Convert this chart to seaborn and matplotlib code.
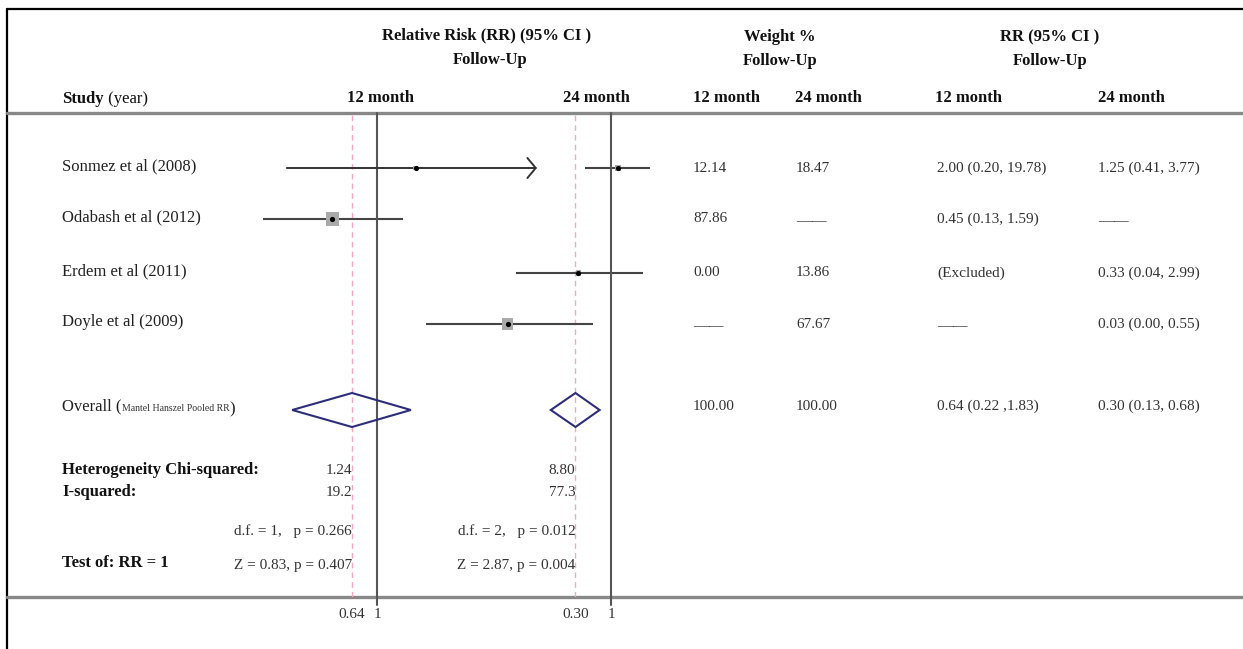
import numpy as np
import pandas as pd
import seaborn as sns
import matplotlib.pyplot as plt
from matplotlib.ticker import NullLocator

# ---- data ----
studies = ['Sonmez et al (2008)', 'Odabash et al (2012)', 'Erdem et al (2011)', 'Doyle et al (2009)']

rr_12 = [2.00, 0.45, np.nan, np.nan]
lo_12 = [0.20, 0.13, np.nan, np.nan]
hi_12 = [19.78, 1.59, np.nan, np.nan]
w_12 = [12.14, 87.86, 0.00, np.nan]

rr_24 = [1.25, np.nan, 0.33, 0.03]
lo_24 = [0.41, np.nan, 0.04, 0.0019]
hi_24 = [3.77, np.nan, 2.99, 0.55]
w_24 = [18.47, np.nan, 13.86, 67.67]

pooled_12 = [0.64, 0.22, 1.83]
pooled_24 = [0.30, 0.13, 0.68]
pooled_text = ['0.64 (0.22 ,1.83)', '0.30 (0.13, 0.68)']
pooled_weight = ['100.00', '100.00']

chi2 = [1.24, 8.80]
i2 = [19.2, 77.3]
dof = [1, 2]
p_het = [0.266, 0.012]
z_val = [0.83, 2.87]
p_z = [0.407, 0.004]

# ---- layout (pixels) ----
W, H = 1243, 649
row_y = [168, 219, 273, 324]
overall_y = 410
rule_top, rule_bottom = 113, 597

sns.set_style('white')
plt.rcParams['font.family'] = ['Liberation Serif', 'DejaVu Serif']

fig = plt.figure(figsize=(W / 100, H / 100), dpi=100)
bg = fig.add_axes([0, 0, 1, 1])
bg.set_xlim(0, W)
bg.set_ylim(H, 0)
bg.axis('off')

# frame and rules
bg.plot([7, W], [9, 9], color='black', lw=1.6)
bg.plot([7, 7], [9, H], color='black', lw=1.6)
for yy in (rule_top, rule_bottom):
    bg.plot([7, W], [yy, yy], color='#888888', lw=2.4)

hdr = dict(fontsize=12, fontweight='bold', color='#111111', va='center')
bg.text(487, 35, 'Relative Risk (RR) (95% CI )', ha='center', **hdr)
bg.text(490, 60, 'Follow-Up', ha='center', **hdr)
bg.text(780, 37, 'Weight %', ha='center', **hdr)
bg.text(780, 61, 'Follow-Up', ha='center', **hdr)
bg.text(1050, 37, 'RR (95% CI )', ha='center', **hdr)
bg.text(1050, 61, 'Follow-Up', ha='center', **hdr)

t = bg.text(62, 99, 'Study', ha='left', **hdr)
bg.annotate(' (year)', xy=(1, 0), xycoords=t, va='bottom', fontsize=12, color='#111111')
for x, lab in [(347, '12 month'), (563, '24 month'), (693, '12 month'),
               (795, '24 month'), (935, '12 month'), (1098, '24 month')]:
    bg.text(x, 98, lab, ha='left', **hdr)

# study names and table columns
val = dict(fontsize=11, color='#333333', va='center', ha='left')
dash = dict(fontsize=11, color='#444444', va='center', ha='left')
for i, name in enumerate(studies):
    y = row_y[i]
    bg.text(62, y - 2, name, fontsize=12, color='#222222', va='center')
    for x, w in [(693, w_12[i]), (796, w_24[i])]:
        if np.isnan(w):
            bg.text(x, y + 3, '\u2014\u2014', **dash)
        else:
            bg.text(x, y, f'{w:.2f}', **val)
    for x, rr, lo, hi, w in [(937, rr_12[i], lo_12[i], hi_12[i], w_12[i]),
                             (1098, rr_24[i], lo_24[i], hi_24[i], w_24[i])]:
        if not np.isnan(rr):
            bg.text(x, y, f'{rr:.2f} ({lo:.2f}, {hi:.2f})', **val)
        elif not np.isnan(w):
            bg.text(x, y, '(Excluded)', **val)
        else:
            bg.text(x, y + 3, '\u2014\u2014', **dash)

t = bg.text(62, overall_y - 4, 'Overall (', fontsize=12, color='#222222', va='center')
t2 = bg.annotate('Mantel Hanszel Pooled RR', xy=(1, 0.08), xycoords=t, va='bottom',
                 fontsize=7, color='#333333')
bg.annotate(')', xy=(1, -0.5), xycoords=t2, va='bottom', fontsize=12, color='#222222')
bg.text(693, overall_y - 4, pooled_weight[0], **val)
bg.text(796, overall_y - 4, pooled_weight[1], **val)
bg.text(937, overall_y - 4, pooled_text[0], **val)
bg.text(1098, overall_y - 4, pooled_text[1], **val)

lab = dict(fontsize=12, fontweight='bold', color='#111111', va='center')
bg.text(62, 470, 'Heterogeneity Chi-squared:', **lab)
bg.text(62, 492, 'I-squared:', **lab)
bg.text(62, 563, 'Test of: RR = 1', **lab)

# ---- forest panels ----
panels = [
    dict(x_one=377, k=56.0, px=(240, 537), rr=rr_12, lo=lo_12, hi=hi_12, w=w_12, pooled=pooled_12, j=0),
    dict(x_one=611, k=29.5, px=(415, 665), rr=rr_24, lo=lo_24, hi=hi_24, w=w_24, pooled=pooled_24, j=1),
]

for p in panels:
    l, r = p['px']
    ax = fig.add_axes([l / W, 1 - rule_bottom / H, (r - l) / W, (rule_bottom - rule_top) / H])
    ax.patch.set_alpha(0)
    ax.set_xscale('log')
    lims = (np.exp((l - p['x_one']) / p['k']), np.exp((r - p['x_one']) / p['k']))

    df = pd.DataFrame({'rr': p['rr'], 'lo': p['lo'], 'hi': p['hi'], 'w': p['w'], 'y': row_y}).dropna()
    for _, row in df.iterrows():
        if row.hi > lims[1]:
            ax.annotate('', xy=(lims[1], row.y), xytext=(row.lo, row.y),
                        arrowprops=dict(arrowstyle='->, head_length=0.3, head_width=0.36',
                                        color='#333333', lw=1.4, mutation_scale=20,
                                        shrinkA=0, shrinkB=0))
        else:
            ax.hlines(row.y, row.lo, row.hi, color='#444444', lw=1.5)

    sns.scatterplot(data=df, x='rr', y='y', size='w', sizes=(0, 100), size_norm=(0, 100),
                    marker='s', color='#aaaaaa', linewidth=0, legend=False, ax=ax, zorder=3)
    sns.scatterplot(data=df, x='rr', y='y', s=14, color='black', linewidth=0,
                    legend=False, ax=ax, zorder=4)

    est, plo, phi = p['pooled']
    ax.fill([plo, est, phi, est], [overall_y, overall_y - 17, overall_y, overall_y + 17],
            facecolor='none', edgecolor='#2d2d7a', lw=1.5, zorder=3)

    ax.axvline(1, ymin=-8 / (rule_bottom - rule_top), ymax=1, color='#555555', lw=1.5,
               clip_on=False, zorder=2)
    ax.axvline(est, color='#f5a9bc', lw=1.0, ls=(0, (4, 3)), zorder=1)

    j = p['j']
    st = dict(fontsize=11, color='#333333', ha='right', va='center')
    ax.text(est, 470, f'{chi2[j]:.2f}', **st)
    ax.text(est, 493, f'{i2[j]:.1f}', **st)
    ax.text(est, 531, f'd.f. = {dof[j]},   p = {p_het[j]:.3f}', **st)
    ax.text(est, 565, f'Z = {z_val[j]:.2f}, p = {p_z[j]:.3f}', **st)

    ax.set_xlim(*lims)
    ax.set_ylim(rule_bottom, rule_top)
    ax.set_xlabel('')
    ax.set_ylabel('')
    ax.set_yticks([])
    ax.xaxis.set_minor_locator(NullLocator())
    ax.set_xticks([est, 1])
    ax.set_xticklabels([f'{est:.2f}', '1'])
    ax.tick_params(axis='x', length=0, pad=8, labelsize=11, labelcolor='#333333')
    for s in ax.spines.values():
        s.set_visible(False)

fig.savefig('out.png', dpi=100)
